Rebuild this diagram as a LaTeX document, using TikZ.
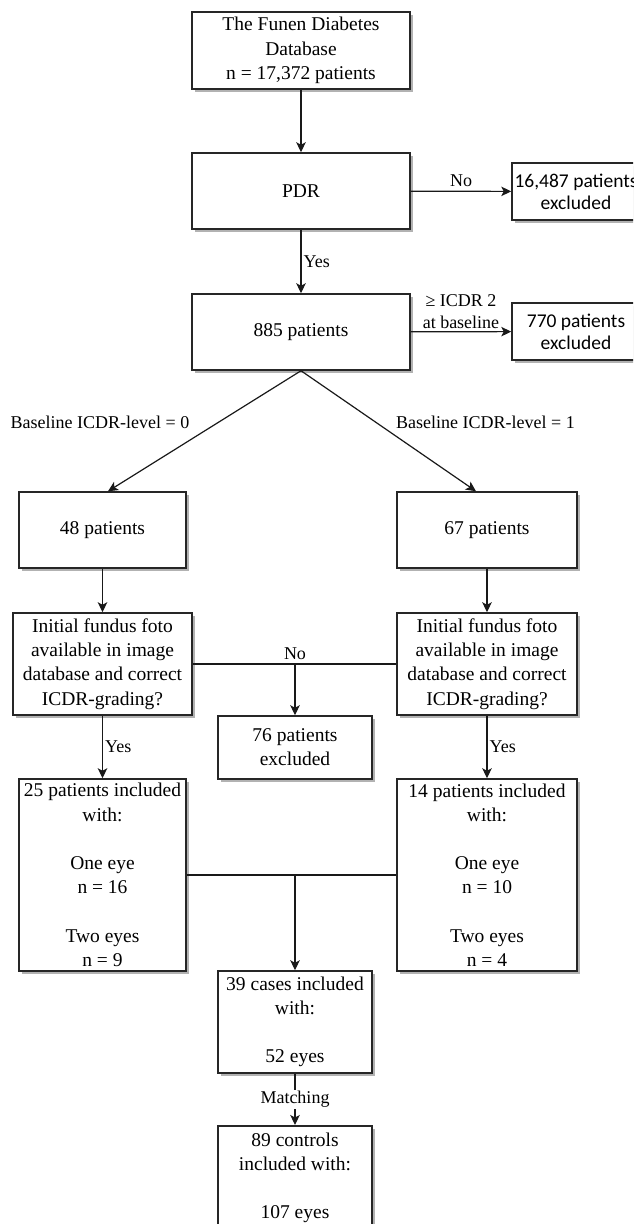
\documentclass[tikz,border=0pt]{standalone}
\usepackage{fontspec}
\setmainfont{Liberation Serif}
\newfontfamily\sansf{Carlito}
\usetikzlibrary{arrows.meta,shadows}
\begin{document}
\begin{tikzpicture}[x=1pt,y=-1pt,
  box/.style={draw=black!85, line width=1.5pt, fill=white, inner sep=0pt, align=center,
    font=\fontsize{19.5}{24.2}\selectfont,
    drop shadow={shadow xshift=3pt, shadow yshift=-3pt, fill=black!30, opacity=1}},
  sbox/.style={box, font=\sansf\fontsize{19.5}{22}\selectfont},
  lbl/.style={inner sep=1pt, align=center, font=\fontsize{18}{22}\selectfont},
  conn/.style={line width=1.2pt, draw=black!90},
  arr/.style={conn, -{Stealth[length=10pt,width=9.5pt,inset=2.5pt]}}]
\useasboundingbox (0,0) rectangle (633,1224);
\clip (0,0) rectangle (633,1224);
\node[box, minimum width=218pt, minimum height=77pt] (top) at (301,50.5) {The Funen Diabetes\\Database\\n = 17,372 patients};
\node[box, minimum width=218pt, minimum height=76pt] (pdr) at (301,191) {PDR};
\node[box, minimum width=218pt, minimum height=76pt] (b885) at (301,332) {885 patients};
\node[sbox, minimum width=128pt, minimum height=57pt] (ex1) at (576,191.5) {16,487 patients\\excluded};
\node[sbox, minimum width=128pt, minimum height=57pt] (ex2) at (576,331.5) {770 patients\\excluded};
\node[box, minimum width=167pt, minimum height=76pt] (b48) at (102.5,530) {48 patients};
\node[box, minimum width=180pt, minimum height=76pt] (b67) at (487,530) {67 patients};
\node[box, minimum width=179pt, minimum height=102pt] (i1) at (102.5,664) {Initial fundus foto\\available in image\\database and correct\\ICDR-grading?};
\node[box, minimum width=180pt, minimum height=102pt] (i2) at (487,664) {Initial fundus foto\\available in image\\database and correct\\ICDR-grading?};
\node[box, minimum width=154pt, minimum height=63pt] (ex76) at (295,747.5) {76 patients\\excluded};
\node[box, minimum width=167pt, minimum height=192pt] (c25) at (102.5,875) {25 patients included\\with:\\[24.2pt]One eye\\n = 16\\[24.2pt]Two eyes\\n = 9};
\node[box, minimum width=180pt, minimum height=192pt] (c14) at (487,875) {14 patients included\\with:\\[24.2pt]One eye\\n = 10\\[24.2pt]Two eyes\\n = 4};
\node[box, minimum width=154pt, minimum height=102pt] (c39) at (295,1022) {39 cases included\\with:\\[24.2pt]52 eyes};
\node[box, minimum width=154pt, minimum height=104pt, anchor=north] (c89) at (295,1125) {89 controls\\included with:\\[24.2pt]107 eyes};

\draw[arr] (top) -- (pdr);
\draw[arr] (pdr) -- node[lbl, right=1pt] {Yes} (b885);
\draw[arr] (pdr) -- node[lbl, above=3pt] {No} (ex1);
\draw[arr] (b885) -- node[lbl, above=1pt] {≥ ICDR 2\\at baseline} (ex2);
\coordinate (t48) at ([xshift=5.5pt]b48.north);
\coordinate (t67) at ([xshift=-11pt]b67.north);
\draw[arr] (b885.south) -- (t48);
\draw[arr] (b885.south) -- (t67);
\node[lbl] (l0) at (100,422) {Baseline ICDR-level = 0};
\node[lbl] (l1) at (485.5,422) {Baseline ICDR-level = 1};
\draw[arr] (b48) -- (i1);
\draw[arr] (b67) -- (i2);
\draw[conn] (i1.east) -- (i2.west);
\coordinate (nj) at (ex76.north |- i1.east);
\draw[arr] (nj) -- (ex76);
\node[lbl, above=3pt] (no2) at (nj) {No};
\draw[arr] (i1) -- node[lbl, right=1pt] {Yes} (c25);
\draw[arr] (i2) -- node[lbl, right=1pt] {Yes} (c14);
\draw[conn] (c25.east) -- (c14.west);
\coordinate (cj) at (c39.north |- c25.east);
\draw[arr] (cj) -- (c39);
\draw[arr] (c39) -- node[lbl, fill=white, inner sep=1pt] {Matching} (c89);
\end{tikzpicture}
\end{document}
